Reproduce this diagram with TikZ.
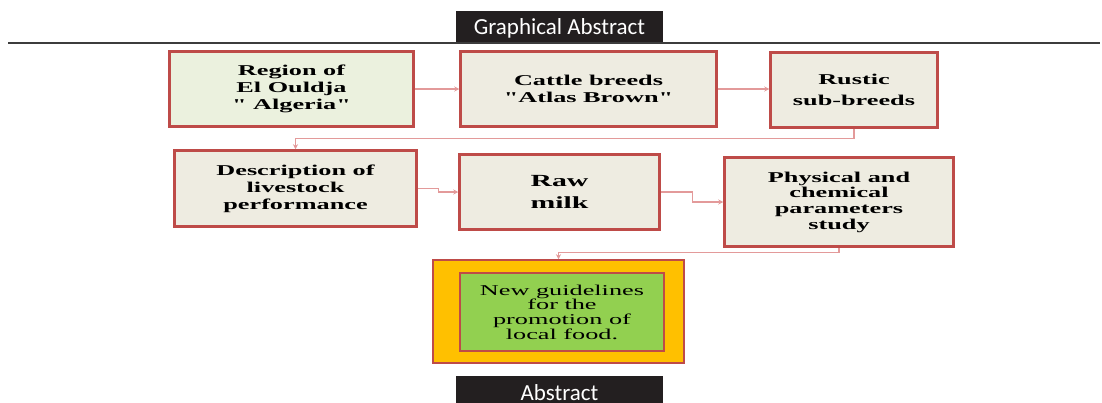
\documentclass[tikz,border=0pt]{standalone}
\usepackage[usenames,dvipsnames]{xcolor}
\usepackage{fontspec}
\usepackage{tikz}
\usetikzlibrary{arrows.meta}

\newfontfamily\boxfont{Liberation Serif}[FakeStretch=1.75]
\newfontfamily\headfont{Carlito}

\definecolor{boxred}{HTML}{BE4B48}
\definecolor{linkred}{HTML}{E39A9A}
\definecolor{boxgreen}{HTML}{EBF1DE}
\definecolor{boxtan}{HTML}{EEECE1}
\definecolor{outerorange}{HTML}{FFC000}
\definecolor{innergreen}{HTML}{92D050}
\definecolor{headblack}{HTML}{231F20}
\definecolor{rulegray}{HTML}{3C3C3C}

\tikzset{
	stagebox/.style={draw=boxred, line width=2.5pt, fill=boxtan, align=center, inner sep=0pt, font=\boxfont\bfseries\fontsize{15}{17}\selectfont},
	headbox/.style={fill=headblack, text=white, inner sep=0pt, text depth=0pt, minimum width=207pt, font=\headfont\fontsize{23}{26}\selectfont},
	link/.style={draw=linkred, line width=1.2pt, -{Stealth[length=5pt,width=5pt]}},
}

\begin{document}
\begin{tikzpicture}[x=1pt,y=-1pt]
				\useasboundingbox (0,0) rectangle (1102,402);
				% title bar
				\draw[line width=2pt, rulegray] (8,42.5) -- (1100,42.5);
				\node[headbox, minimum height=31pt] (graph) at (559.5,26.5) {Graphical Abstract};
				% first row
				\node[stagebox, fill=boxgreen, minimum width=244pt, minimum height=75pt] (region) at (291.5,89) {Region of\\El Ouldja\\" Algeria"};
				\node[stagebox, minimum width=256pt, minimum height=75pt] (breeds) at (588.5,89) {Cattle breeds\\"Atlas Brown"};
				\node[stagebox, minimum width=167pt, minimum height=75pt] (rustic) at (854,90) {Rustic\\[4pt]sub-breeds};
				% second row
				\node[stagebox, minimum width=242pt, minimum height=76pt] (livestock) at (295.5,188.5) {Description of\\livestock\\performance};
				\node[stagebox, minimum width=200pt, minimum height=75pt, font=\boxfont\bfseries\fontsize{17}{22}\selectfont] (milk) at (559.5,192) {Raw\\milk};
				\node[stagebox, minimum width=229pt, minimum height=89pt, font=\boxfont\bfseries\fontsize{15}{15.7}\selectfont] (study) at (839,202) {Physical and\\chemical\\parameters\\study};
				% result
				\node[draw=boxred, line width=1.5pt, fill=outerorange, minimum width=251pt, minimum height=103pt] (promo) at (558.5,311.5) {};
				\node[draw=boxred, line width=2pt, fill=innergreen, minimum width=204pt, minimum height=78pt, align=center, font=\boxfont\fontsize{15}{14.7}\selectfont] (guide) at (562,312) {New guidelines\\for the\\promotion of\\local food.};
				\node[headbox, minimum height=34pt] (abstr) at (559.5,393) {Abstract};
				% connectors
				\draw[link] (region.east) -- (breeds.west);
				\draw[link] (breeds.east) -- (breeds.east -| rustic.west);
				\draw[link] (rustic.south) -- ++(0,10) -| (livestock.north);
				\draw[link] (livestock.east) -- ++(21,0) |- (milk.west);
				\draw[link] (milk.east) -- ++(32,0) |- (study.west);
				\draw[link] (study.south) -- ++(0,5) -| (promo.north);
\end{tikzpicture}
\end{document}
